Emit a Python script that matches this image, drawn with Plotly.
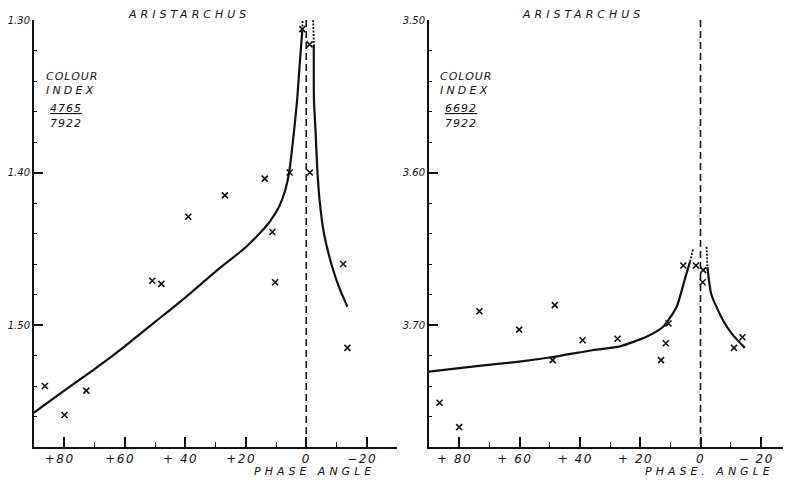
import plotly.graph_objects as go

# ---------------- data ----------------
# Left panel: colour index 4765/7922
left_pts_phase = [1.3, -1.1, 13.7, 5.5, -1.2, 26.9, 39.0, 11.2, -12.2, 50.9, 47.9, 10.3, -13.6, 86.4, 72.7, 79.9]
left_pts_ci = [1.306, 1.316, 1.404, 1.400, 1.400, 1.415, 1.429, 1.439, 1.460, 1.471, 1.473, 1.472, 1.515, 1.540, 1.543, 1.559]

left_curve_a_phase = [90, 80, 70, 60, 50, 40, 30, 20, 15, 12, 9, 7, 5.7, 4.1, 3.0, 2.2, 1.3]
left_curve_a_ci = [1.5575, 1.543, 1.529, 1.514, 1.498, 1.482, 1.465, 1.449, 1.439, 1.432, 1.4224, 1.412, 1.4005, 1.374, 1.352, 1.33, 1.3066]
left_dot_a_phase = [1.3, 1.2]
left_dot_a_ci = [1.3066, 1.300]
left_dot_b_phase = [-2.3, -2.5]
left_dot_b_ci = [1.300, 1.315]
left_curve_b_phase = [-2.5, -2.55, -3.1, -3.6, -4.4, -5.85, -8.6, -10.8, -13.6]
left_curve_b_ci = [1.316, 1.352, 1.374, 1.396, 1.418, 1.440, 1.462, 1.475, 1.488]

# Right panel: colour index 6692/7922
right_pts_phase = [86.5, 80.0, 73.3, 60.1, 48.3, 49.0, 39.1, 27.5, 13.1, 11.5, 10.6, 5.7, 1.5, -0.9, -0.7, -11.1, -13.9]
right_pts_ci = [3.751, 3.767, 3.691, 3.703, 3.687, 3.723, 3.710, 3.709, 3.723, 3.712, 3.699, 3.661, 3.661, 3.664, 3.672, 3.715, 3.708]

right_curve_a_phase = [90, 74.2, 60, 49, 35.5, 26.7, 17.9, 12.3, 7.9, 5.2, 3.5]
right_curve_a_ci = [3.7306, 3.727, 3.724, 3.721, 3.7164, 3.714, 3.7077, 3.701, 3.688, 3.670, 3.6585]
right_dot_a_phase = [3.5, 2.4]
right_dot_a_ci = [3.6585, 3.6497]
right_dot_b_phase = [-2.0, -2.3]
right_dot_b_ci = [3.6487, 3.6618]
right_curve_b_phase = [-2.3, -3.6, -7.5, -10.5, -14.7]
right_curve_b_ci = [3.662, 3.680, 3.697, 3.706, 3.715]

x_tickvals = [80, 60, 40, 20, 0, -20]
left_xticktext = ["+80", "+60", "+ 40", "+20", "0", "−20"]
right_xticktext = ["+ 80", "+ 60", "+ 40", "+ 20", "0", "− 20"]
left_ytickvals = [1.30, 1.40, 1.50]
left_yticktext = ["1.30", "1.40", "1.50"]
right_ytickvals = [3.50, 3.60, 3.70]
right_yticktext = ["3.50", "3.60", "3.70"]

title_text = "ARISTARCHUS"
xlabel_left = "PHASE ANGLE"
xlabel_right = "PHASE. ANGLE"
colour_line1 = "COLOUR"
colour_line2 = "INDEX"
left_index_num, left_index_den = "4765", "7922"
right_index_num, right_index_den = "6692", "7922"

# ---------------- figure ----------------
FONT = "DejaVu Sans"
BLACK = "#111111"

# page has an 8px body margin: the figure is shifted by that amount
OFF = 8
FIG_W, FIG_H = 791 - OFF, 480 - OFF
# desired plot area in screen pixels
PL, PR, PT, PB = 34, 791, 20, 447
ML, MT = PL - OFF, PT - OFF
MB = FIG_H - (PB - OFF)
MR = FIG_W - (PR - OFF)
PLOT_W = PR - PL
PLOT_H = PB - PT


def spaced(t, ls):
    return '<span style="letter-spacing:%spx">%s</span>' % (ls, t)


def xtick_label(t):
    # the sign hangs to the left of the tick; pad on the right so the digits sit under the tick
    if t[0] in "+−":
        t = t + "\u2007"
    return spaced(t, 1.5)


fig = go.Figure()


def add_panel(xa, ya, pts_x, pts_y, ca_x, ca_y, da_x, da_y, db_x, db_y, cb_x, cb_y, yr):
    line = dict(color=BLACK, width=2.2, shape="spline", smoothing=0.6)
    fig.add_trace(go.Scatter(x=ca_x, y=ca_y, mode="lines", line=line, xaxis=xa, yaxis=ya, showlegend=False))
    fig.add_trace(go.Scatter(x=cb_x, y=cb_y, mode="lines", line=line, xaxis=xa, yaxis=ya, showlegend=False))
    dline = dict(color=BLACK, width=1.8, dash="2px,1.5px")
    fig.add_trace(go.Scatter(x=da_x, y=da_y, mode="lines", line=dline, xaxis=xa, yaxis=ya, showlegend=False))
    fig.add_trace(go.Scatter(x=db_x, y=db_y, mode="lines", line=dline, xaxis=xa, yaxis=ya, showlegend=False))
    # vertical dashed zero-phase line
    fig.add_trace(go.Scatter(x=[0, 0], y=yr, mode="lines",
                             line=dict(color=BLACK, width=1.6, dash="7px,4px"),
                             xaxis=xa, yaxis=ya, showlegend=False))
    fig.add_trace(go.Scatter(x=pts_x, y=pts_y, mode="markers",
                             marker=dict(symbol="x-thin", size=6, line=dict(color=BLACK, width=1.6)),
                             xaxis=xa, yaxis=ya, showlegend=False))


add_panel("x", "y", left_pts_phase, left_pts_ci, left_curve_a_phase, left_curve_a_ci,
          left_dot_a_phase, left_dot_a_ci, left_dot_b_phase, left_dot_b_ci,
          left_curve_b_phase, left_curve_b_ci, [1.30, 1.58])
add_panel("x2", "y2", right_pts_phase, right_pts_ci, right_curve_a_phase, right_curve_a_ci,
          right_dot_a_phase, right_dot_a_ci, right_dot_b_phase, right_dot_b_ci,
          right_curve_b_phase, right_curve_b_ci, [3.50, 3.78])

tickfont = dict(family=FONT, size=12, color=BLACK, style="italic")


def xaxis_cfg(domain, anchor, ticktext):
    return dict(domain=domain, anchor=anchor, range=[90, -30], showgrid=False, zeroline=False,
                showline=True, linecolor=BLACK, linewidth=2,
                tickmode="array", tickvals=x_tickvals,
                ticktext=[xtick_label(t) for t in ticktext],
                ticks="inside", ticklen=10, tickwidth=1.6, tickcolor=BLACK,
                minor=dict(dtick=10, tick0=0, ticks="inside",
                           ticklen=5, tickwidth=1.4, tickcolor=BLACK, showgrid=False),
                tickfont=tickfont)


def yaxis_cfg(anchor, rng, tv, tt):
    return dict(anchor=anchor, range=rng, domain=[0, 1], showgrid=False, zeroline=False,
                showline=True, linecolor=BLACK, linewidth=2,
                tickmode="array", tickvals=tv, ticktext=tt,
                ticks="inside", ticklen=9, tickwidth=1.6, tickcolor=BLACK,
                minor=dict(dtick=0.02, tick0=rng[1], ticks="inside", ticklen=3, tickwidth=1.4,
                           tickcolor=BLACK, showgrid=False),
                tickfont=dict(family=FONT, size=10, color=BLACK, style="italic"))


fig.update_layout(
    width=FIG_W, height=FIG_H,
    margin=dict(l=ML, r=MR, t=MT, b=MB, autoexpand=False),
    paper_bgcolor="white", plot_bgcolor="white",
    xaxis=xaxis_cfg([0, (397 - PL) / PLOT_W], "y", left_xticktext),
    yaxis=yaxis_cfg("x", [1.58, 1.30], left_ytickvals, left_yticktext),
    xaxis2=xaxis_cfg([(429 - PL) / PLOT_W, 1.0], "y2", right_xticktext),
    yaxis2=yaxis_cfg("x2", [3.78, 3.50], right_ytickvals, right_yticktext),
)

ann_font = dict(family=FONT, size=11, color=BLACK, style="italic")
annotations = []
panels = [(189, 44, 66, left_index_num, left_index_den, xlabel_left, 314),
          (583, 438, 461, right_index_num, right_index_den, xlabel_right, 709)]
for cx, lab_x, frac_x, num, den, xlab, xlab_cx in panels:
    annotations.append(dict(text=spaced(title_text, 4), x=cx, y=15, xanchor="center",
                            font=dict(family=FONT, size=11, color=BLACK, style="italic")))
    annotations.append(dict(text=spaced(colour_line1, 1), x=lab_x, y=76, xanchor="left", font=ann_font))
    annotations.append(dict(text=spaced(colour_line2, 3.2), x=lab_x, y=91, xanchor="left", font=ann_font))
    annotations.append(dict(text=spaced("<u>" + num + "</u>", 1), x=frac_x, y=108, xanchor="center", font=ann_font))
    annotations.append(dict(text=spaced(den, 1), x=frac_x, y=123, xanchor="center", font=ann_font))
    annotations.append(dict(text=spaced(xlab, 4), x=xlab_cx, y=471, xanchor="center", font=ann_font))

# convert screen pixel positions into paper coordinates
for a in annotations:
    a["x"] = (a["x"] - PL) / PLOT_W
    a["y"] = (PB - a["y"]) / PLOT_H
    a["xref"] = "paper"
    a["yref"] = "paper"
    a["yanchor"] = "middle"
    a["showarrow"] = False
fig.update_layout(annotations=annotations)

fig.write_html("out.html")
